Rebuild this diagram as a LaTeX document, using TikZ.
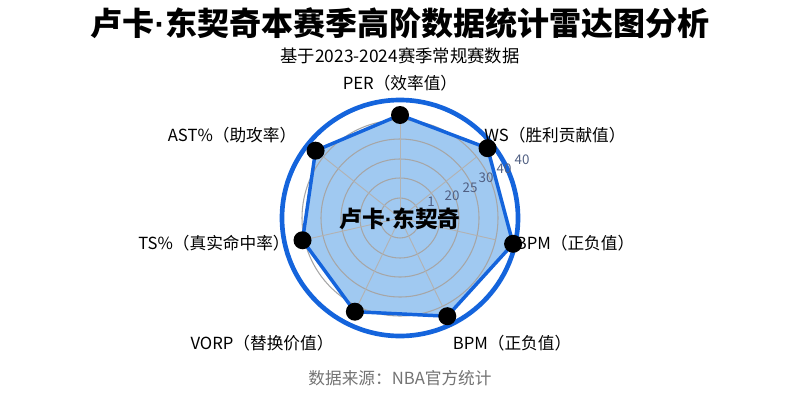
\documentclass[tikz,border=0pt]{standalone}
\usepackage{fontspec}
\setmainfont{Noto Sans CJK SC}
\newfontfamily\latf{Liberation Sans}
\newcommand{\mydot}{{\latf\bfseries ·}}
\usetikzlibrary{calc}
\begin{document}
\begin{tikzpicture}[x=0.75pt,y=-0.75pt,
  lab/.style={font=\fontsize{12.5}{14}\selectfont,text=black},
  tick/.style={font=\fontsize{10}{12}\selectfont,text=tickc},
  dot/.style={circle,fill=black,inner sep=0pt,minimum size=13.5pt}]
\definecolor{tickc}{RGB}{80,95,130}
\definecolor{bl}{RGB}{20,100,220}
\definecolor{fillb}{RGB}{150,195,240}
\useasboundingbox (0,0) rectangle (800,400);
\coordinate (c) at (400,218);
\node (title) at (400,23) {\fontsize{24}{28}\selectfont\bfseries 卢卡\mydot 东契奇本赛季高阶数据统计雷达图分析};
\node (sub) at (400,56) {\fontsize{13}{15}\selectfont 基于2023-2024赛季常规赛数据};
\node (src) at (400,378) {\fontsize{12.5}{14}\selectfont\color{black!55} 数据来源：NBA官方统计};
\foreach \i/\r in {0/103,1/112,2/116,3/109,4/104,5/100,6/108}{
  \coordinate (p\i) at ($(c)+({\i*360/7-90}:\r)$);
}
\fill[fillb,opacity=0.9] (p0)--(p1)--(p2)--(p3)--(p4)--(p5)--(p6)--cycle;
\foreach \r in {20,40,59,79,98} \draw[gray!70,line width=0.8pt] (c) circle[radius=\r];
\foreach \i in {0,...,6} \draw[gray!60,line width=0.7pt] (c) -- ($(c)+({\i*360/7-90}:98)$);
\draw[bl,line width=2.6pt,line join=round] (p0)--(p1)--(p2)--(p3)--(p4)--(p5)--(p6)--cycle;
\draw[bl,line width=3.5pt] (c) circle[radius=118];
\foreach \i in {0,...,6} \node[dot] (d\i) at (p\i) {};
\node[tick] (t1) at (431,202) {1};
\node[tick] (t2) at (452,196) {20};
\node[tick] (t3) at (470,188) {25};
\node[tick] (t4) at (486,178) {30};
\node[tick] (t5) at (504,169) {40};
\node[tick] (t6) at (522,160) {40};
\node (name) at (400,219) {\fontsize{17}{20}\selectfont\bfseries 卢卡\mydot 东契奇};
\node[lab] (l0) at (400,83) {PER（效率值）};
\node[lab] (l1) at (555,135) {WS（胜利贡献值）};
\node[lab] (l2) at (575,243) {BPM（正负值）};
\node[lab] (l3) at (512,343) {BPM（正负值）};
\node[lab] (l4) at (262,343) {VORP（替换价值）};
\node[lab] (l5) at (214,243) {TS\%（真实命中率）};
\node[lab] (l6) at (232,135) {AST\%（助攻率）};
\end{tikzpicture}
\end{document}
